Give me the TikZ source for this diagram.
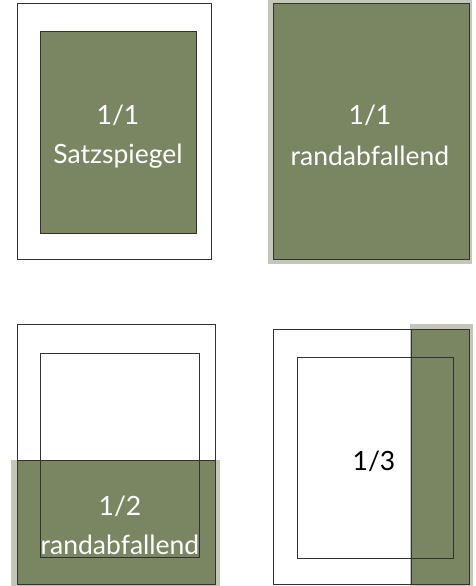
\documentclass[tikz,border=0pt]{standalone}
\usepackage{fontspec}
\setmainfont{Lato}
\definecolor{olive}{RGB}{122,134,98}
\definecolor{bleed}{RGB}{196,199,183}
\definecolor{edge}{RGB}{50,50,50}
\begin{document}
\begin{tikzpicture}[x=1pt,y=-1pt,
  pageframe/.style={draw=edge,line width=1pt},
  greenbox/.style={fill=olive,draw=edge,line width=1pt},
  bleedbox/.style={fill=bleed},
  lbl/.style={font=\fontsize{26.5}{30}\selectfont,text=white,align=center},
  lbldark/.style={font=\fontsize{26.5}{30}\selectfont,text=black}]
\useasboundingbox (0,0) rectangle (475,586);
% panel 1
\draw[pageframe] (17,4) rectangle (211,259);
\draw[greenbox] (40,32) rectangle (196,233);
\node[lbl] (t1a) at (118,115) {1/1};
\node[lbl] (t1b) at (118,156) {Satzspiegel};
% panel 2
\fill[bleedbox] (268,0) rectangle (472,264);
\draw[greenbox] (273,4) rectangle (469,259);
\node[lbl] (t2a) at (370,115) {1/1};
\node[lbl] (t2b) at (370,156) {randabfallend};
% panel 3
\fill[bleedbox] (11,460) rectangle (220,586);
\fill[olive] (17,460) rectangle (215,584);
\node[lbl] (t3a) at (120,506) {1/2};
\node[lbl] (t3b) at (120,545) {randabfallend};
\draw[pageframe] (17,324) rectangle (215,584);
\draw[pageframe] (40,353) rectangle (199,557);
\draw[edge,line width=1pt] (17,460) -- (215,460);
% panel 4
\fill[bleedbox] (410,324) rectangle (473,586);
\fill[olive] (411,329) rectangle (469,584);
\draw[pageframe] (273,329) rectangle (469,584);
\draw[pageframe] (297,357) rectangle (453,558);
\draw[edge,line width=1pt] (411,329) -- (411,584);
\node[lbldark] (t4) at (374,461) {1/3};
\end{tikzpicture}
\end{document}
